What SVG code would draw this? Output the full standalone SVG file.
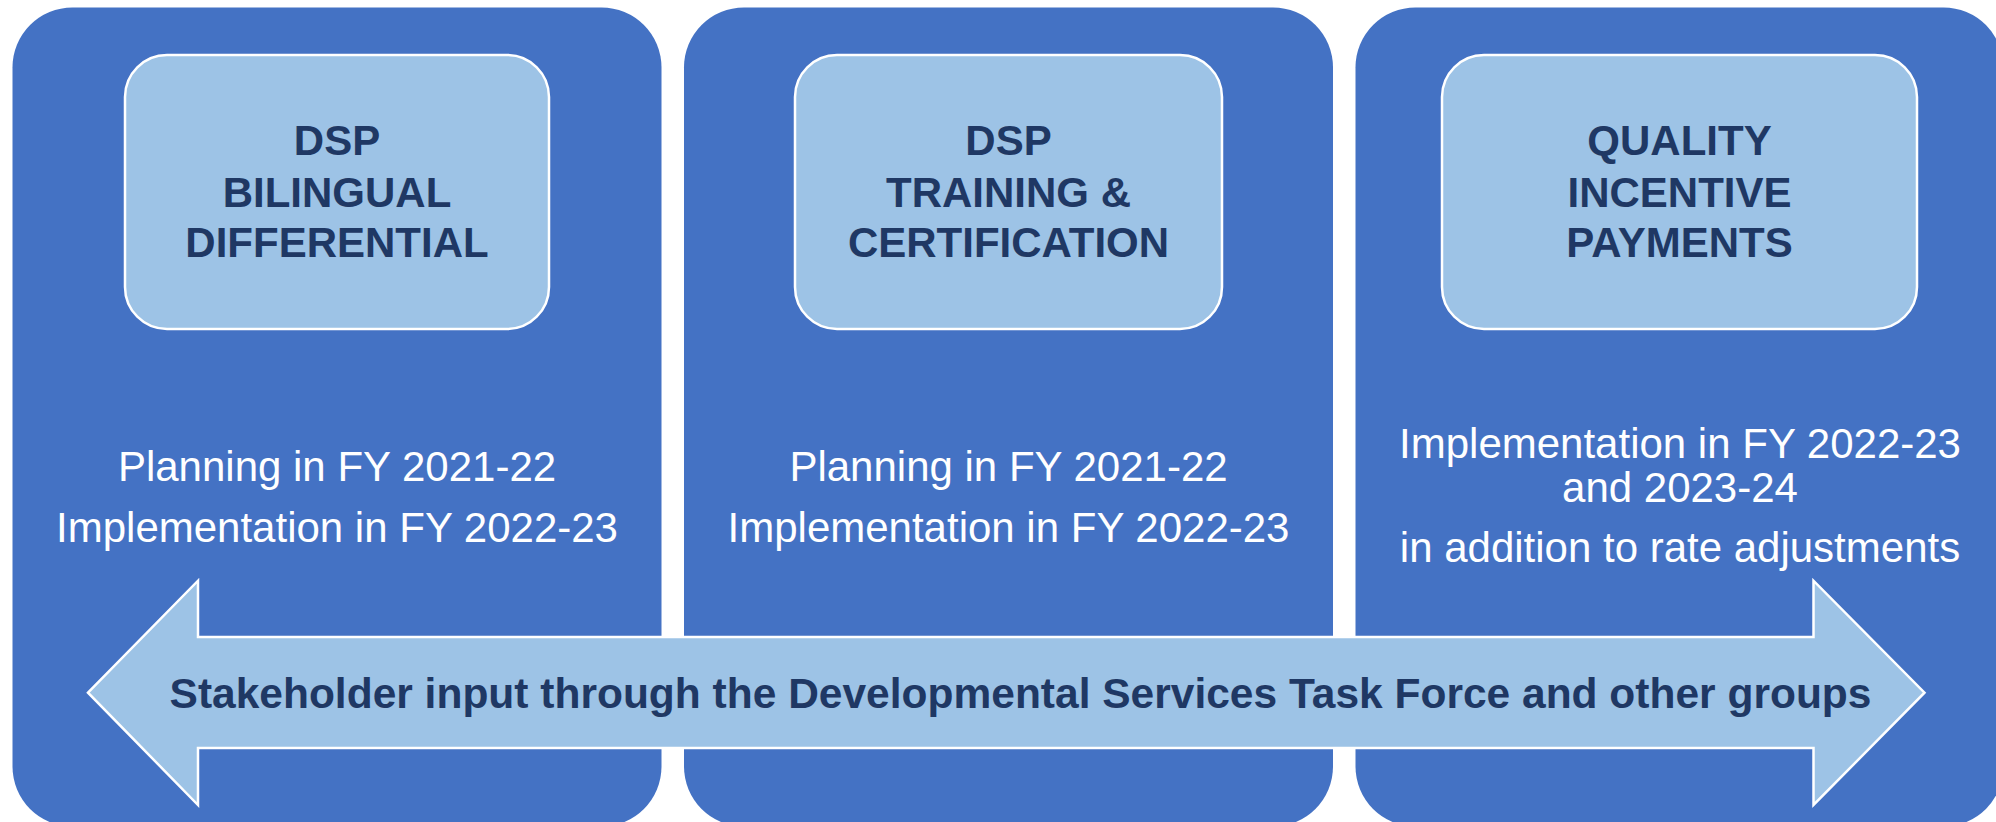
<svg xmlns="http://www.w3.org/2000/svg" width="1996" height="822" viewBox="0 0 1996 822">
  <style>
    .panel { fill: #4472C4; }
    .box { fill: #9DC3E6; stroke: #FFFFFF; stroke-width: 2.5; }
    .title { font-family: "Liberation Sans", Arial, sans-serif; font-weight: bold; font-size: 42px; fill: #1F3864; text-anchor: middle; }
    .body { font-family: "Liberation Sans", Arial, sans-serif; font-size: 42px; fill: #FFFFFF; text-anchor: middle; }
    .arrow { fill: #9DC3E6; stroke: #FFFFFF; stroke-width: 2.5; stroke-linejoin: miter; }
    .arrowtext { font-family: "Liberation Sans", Arial, sans-serif; font-weight: bold; font-size: 42.5px; fill: #1F3864; text-anchor: middle; }
  </style>
  <rect width="1996" height="822" fill="#FFFFFF"/>

  <g id="panel-bilingual">
    <rect class="panel" x="12.5" y="7.5" width="649" height="819" rx="60" ry="60"/>
    <rect class="box" x="125" y="55" width="424" height="274" rx="42" ry="42"/>
    <text class="title" x="337" y="155">DSP</text>
    <text class="title" x="337" y="206.5">BILINGUAL</text>
    <text class="title" x="337" y="257">DIFFERENTIAL</text>
    <text class="body" x="337" y="481">Planning in FY 2021-22</text>
    <text class="body" x="337" y="541.5">Implementation in FY 2022-23</text>
  </g>

  <g id="panel-training">
    <rect class="panel" x="684" y="7.5" width="649" height="819" rx="60" ry="60"/>
    <rect class="box" x="795" y="55" width="427" height="274" rx="42" ry="42"/>
    <text class="title" x="1008.5" y="155">DSP</text>
    <text class="title" x="1008.5" y="206.5">TRAINING &amp;</text>
    <text class="title" x="1008.5" y="257">CERTIFICATION</text>
    <text class="body" x="1008.5" y="481">Planning in FY 2021-22</text>
    <text class="body" x="1008.5" y="541.5">Implementation in FY 2022-23</text>
  </g>

  <g id="panel-quality">
    <rect class="panel" x="1355.5" y="7.5" width="648" height="819" rx="60" ry="60"/>
    <rect class="box" x="1442" y="55" width="475" height="274" rx="42" ry="42"/>
    <text class="title" x="1679.5" y="155">QUALITY</text>
    <text class="title" x="1679.5" y="206.5">INCENTIVE</text>
    <text class="title" x="1679.5" y="257">PAYMENTS</text>
    <text class="body" x="1680" y="458.3">Implementation in FY 2022-23</text>
    <text class="body" x="1680" y="501.7">and 2023-24</text>
    <text class="body" x="1680" y="562.3">in addition to rate adjustments</text>
  </g>

  <g id="connectors">
    <g id="stakeholder-arrow">
      <polygon class="arrow" points="88,692.7 198,580.7 198,637 1813.5,637 1813.5,580.7 1924.5,692.7 1813.5,805 1813.5,748 198,748 198,805"/>
      <text class="arrowtext" x="1020.5" y="708">Stakeholder input through the Developmental Services Task Force and other groups</text>
    </g>
  </g>
</svg>
